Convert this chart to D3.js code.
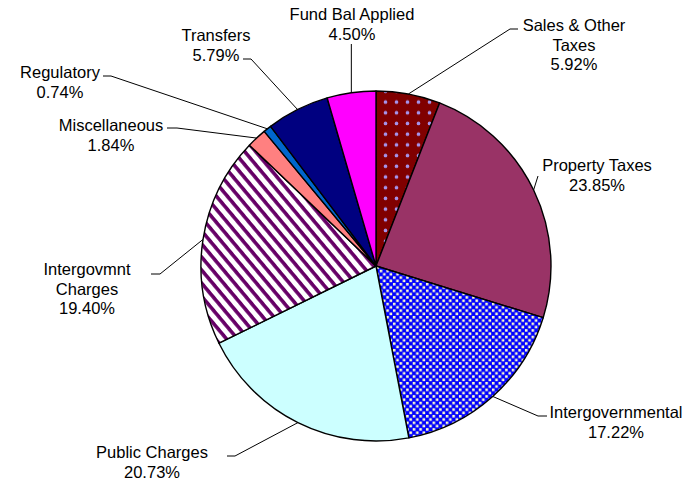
<!DOCTYPE html>
<html>
<head>
<meta charset="utf-8">
<script src="https://cdn.jsdelivr.net/npm/d3@7"></script>
<style>
  html, body { margin: 0; padding: 0; background: #fff; }
  text { font-family: Arial, "Liberation Sans", sans-serif; font-size: 16.5px; fill: #000; }
</style>
</head>
<body>
<div id="chart"></div>
<script>
// slices, clockwise from 12 o'clock
const categories = ['Sales & Other Taxes', 'Property Taxes', 'Intergovernmental', 'Public Charges',
  'Intergovmnt Charges', 'Miscellaneous', 'Regulatory', 'Transfers', 'Fund Bal Applied'];
const labelLines = [['Sales & Other', 'Taxes'], ['Property Taxes'], ['Intergovernmental'], ['Public Charges'],
  ['Intergovmnt', 'Charges'], ['Miscellaneous'], ['Regulatory'], ['Transfers'], ['Fund Bal Applied']];
const values = [5.92, 23.85, 17.22, 20.73, 19.40, 1.84, 0.74, 5.79, 4.50];

const width = 698;
const height = 482;
const center = { x: 376, y: 266 };
const radius = 175;

// fills for each slice (pattern ids or colours)
const fills = ['url(#dots)', '#993366', 'url(#checker)', '#ccffff', 'url(#stripes)',
  '#ff8080', '#0066cc', '#000080', '#ff00ff'];

// where each label sits: text centre x, first baseline y, leader elbow and end
const labelLayout = [
  { x: 574, y: 31, elbow: [510, 29], end: [518, 29] },
  { x: 597, y: 171, elbow: [538, 176], end: [538, 176] },
  { x: 616, y: 418, elbow: [538, 416], end: [547, 416] },
  { x: 152, y: 458, elbow: [235, 456], end: [227, 456] },
  { x: 87, y: 275, elbow: [160, 274], end: [151, 274] },
  { x: 111, y: 131, elbow: [177, 128], end: [167, 128] },
  { x: 60, y: 78, elbow: [111, 76], end: [103, 76] },
  { x: 216, y: 41, elbow: [251, 59], end: [243, 59] },
  { x: 352, y: 20, elbow: [0, 44], end: null }
];
const lineGap = 19.5;

const svg = d3.select('#chart')
  .append('svg')
  .attr('width', width)
  .attr('height', height);

// patterns
const defs = svg.append('defs');

const dots = defs.append('pattern')
  .attr('id', 'dots')
  .attr('patternUnits', 'userSpaceOnUse')
  .attr('width', 11)
  .attr('height', 10.7)
  .attr('x', center.x + 2)
  .attr('y', 2);
dots.append('rect').attr('width', 11).attr('height', 10.7).attr('fill', '#800000');
dots.append('circle').attr('cx', 5.5).attr('cy', 5.3).attr('r', 1.8).attr('fill', '#a594ec');

const checker = defs.append('pattern')
  .attr('id', 'checker')
  .attr('patternUnits', 'userSpaceOnUse')
  .attr('width', 6.6)
  .attr('height', 6.6);
checker.append('rect').attr('width', 6.6).attr('height', 6.6).attr('fill', '#0000ff');
checker.append('rect').attr('x', 0.4).attr('y', 0.4).attr('width', 2.6).attr('height', 2.6).attr('fill', '#ffffcc');
checker.append('rect').attr('x', 3.7).attr('y', 3.7).attr('width', 2.6).attr('height', 2.6).attr('fill', '#ffffcc');

const stripes = defs.append('pattern')
  .attr('id', 'stripes')
  .attr('patternUnits', 'userSpaceOnUse')
  .attr('width', 10)
  .attr('height', 8.4)
  .attr('patternTransform', 'rotate(50)');
stripes.append('rect').attr('width', 10).attr('height', 8.4).attr('fill', '#ffffff');
stripes.append('rect').attr('width', 10).attr('height', 3.6).attr('fill', '#660066');

// pie
const pie = d3.pie().sort(null).value(d => d);
const arcs = pie(values);
const arc = d3.arc().innerRadius(0).outerRadius(radius);

const g = svg.append('g')
  .attr('transform', `translate(${center.x},${center.y})`);

g.selectAll('path.slice')
  .data(arcs)
  .enter()
  .append('path')
  .attr('class', 'slice')
  .attr('d', arc)
  .attr('fill', (d, i) => fills[i])
  .attr('stroke', '#000')
  .attr('stroke-width', 1.4)
  .attr('stroke-linejoin', 'round');

// leader lines start on the rim at the slice's mid angle
arcs.forEach((d, i) => {
  const a = (d.startAngle + d.endAngle) / 2;
  const px = center.x + radius * Math.sin(a);
  const py = center.y - radius * Math.cos(a);
  const lay = labelLayout[i];
  let pts;
  if (lay.end === null) {
    pts = [[px, py], [px, lay.elbow[1]]];
  } else {
    pts = [[px, py], lay.elbow, lay.end];
  }
  svg.append('path')
    .attr('d', d3.line()(pts))
    .attr('fill', 'none')
    .attr('stroke', '#000')
    .attr('stroke-width', 1);

  const lines = labelLines[i].concat([d3.format('.2f')(values[i]) + '%']);
  const t = svg.append('text')
    .attr('text-anchor', 'middle');
  lines.forEach((s, k) => {
    t.append('tspan')
      .attr('x', lay.x)
      .attr('y', lay.y + k * lineGap)
      .text(s);
  });
});
</script>
</body>
</html>
